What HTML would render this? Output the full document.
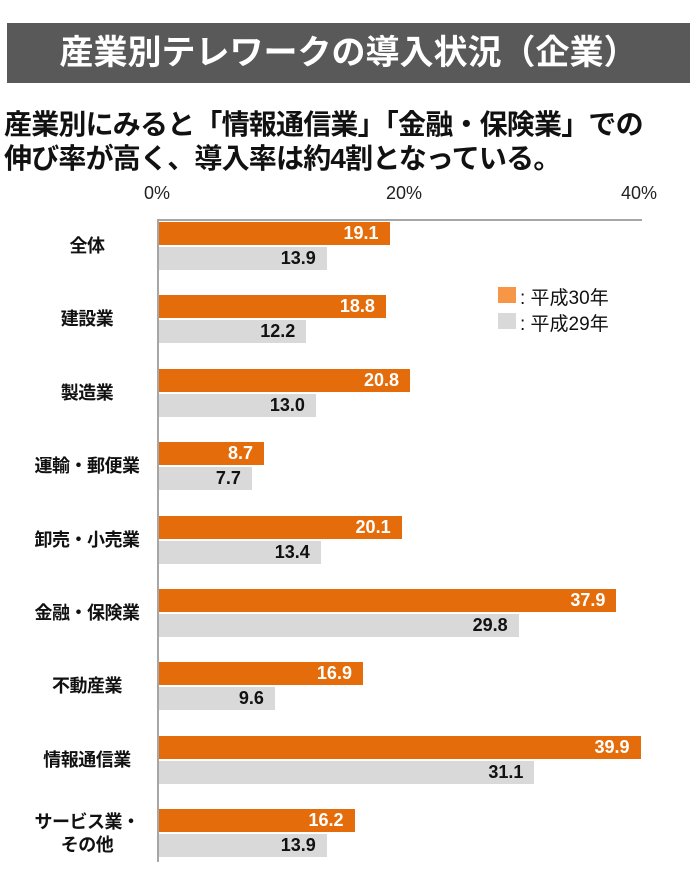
<!DOCTYPE html>
<html><head><meta charset="utf-8"><style>
body{margin:0;width:696px;height:870px;background:#fff;font-family:"Liberation Sans","Noto Sans CJK JP",sans-serif;position:relative;overflow:hidden}
.t{position:absolute;left:7px;top:23px;width:683px;height:60px;background:#595959;color:#fff;font-size:34px;line-height:60px;text-align:center;font-weight:bold}
.s{position:absolute;left:4px;top:108px;font-size:28px;font-weight:bold;line-height:34px;color:#111;letter-spacing:-0.8px}
.ax{position:absolute;top:183px;font-size:18px;color:#222}
.ln{position:absolute;background:#a6a6a6}
.b{position:absolute;left:159px;font-size:18px;font-weight:bold;text-align:right;box-sizing:border-box;padding-right:11px}
.o{background:#E46C0A;color:#fff;height:23px;line-height:23px}
.g{background:#D9D9D9;color:#111;height:23px;line-height:23px}
.c{position:absolute;width:130px;left:22px;text-align:center;font-size:18px;font-weight:bold;color:#111;line-height:23px;letter-spacing:-0.5px}
.lg{position:absolute;left:498px;width:18px;height:16px}
.lt{position:absolute;left:520px;font-size:19px;color:#111}
</style></head><body>
<div class="t">産業別テレワークの導入状況（企業）</div>
<div class="s">産業別にみると「情報通信業」「金融・保険業」での<br>伸び率が高く、導入率は約4割となっている。</div>
<div class="ax" style="left:144px">0%</div>
<div class="ax" style="left:386px">20%</div>
<div class="ax" style="left:621px">40%</div>
<div class="ln" style="left:158px;top:219px;width:484px;height:2px"></div>
<div class="ln" style="left:157px;top:219px;width:2px;height:643px"></div>
<div id="bars"></div>
<div class="lg" style="top:287px;background:#F79646"></div><div class="lt" style="top:283px">: 平成30年</div>
<div class="lg" style="top:313px;background:#D9D9D9"></div><div class="lt" style="top:309px">: 平成29年</div>
<script>
var d=[["全体",19.1,13.9],["建設業",18.8,12.2],["製造業",20.8,13.0],["運輸・郵便業",8.7,7.7],["卸売・小売業",20.1,13.4],["金融・保険業",37.9,29.8],["不動産業",16.9,9.6],["情報通信業",39.9,31.1],["サービス業・<br>その他",16.2,13.9]];
var h="";d.forEach(function(r,i){var y=222+i*73.4;
h+='<div class="b o" style="top:'+y+'px;width:'+(r[1]*12.07)+'px">'+r[1].toFixed(1)+'</div>';
h+='<div class="b g" style="top:'+(y+25)+'px;width:'+(r[2]*12.07)+'px">'+r[2].toFixed(1)+'</div>';
var two=r[0].indexOf("<br>")>0;
h+='<div class="c" style="top:'+(y+(two?13:24)-11)+'px">'+r[0]+'</div>';});
document.getElementById("bars").innerHTML=h;
</script>
</body></html>
